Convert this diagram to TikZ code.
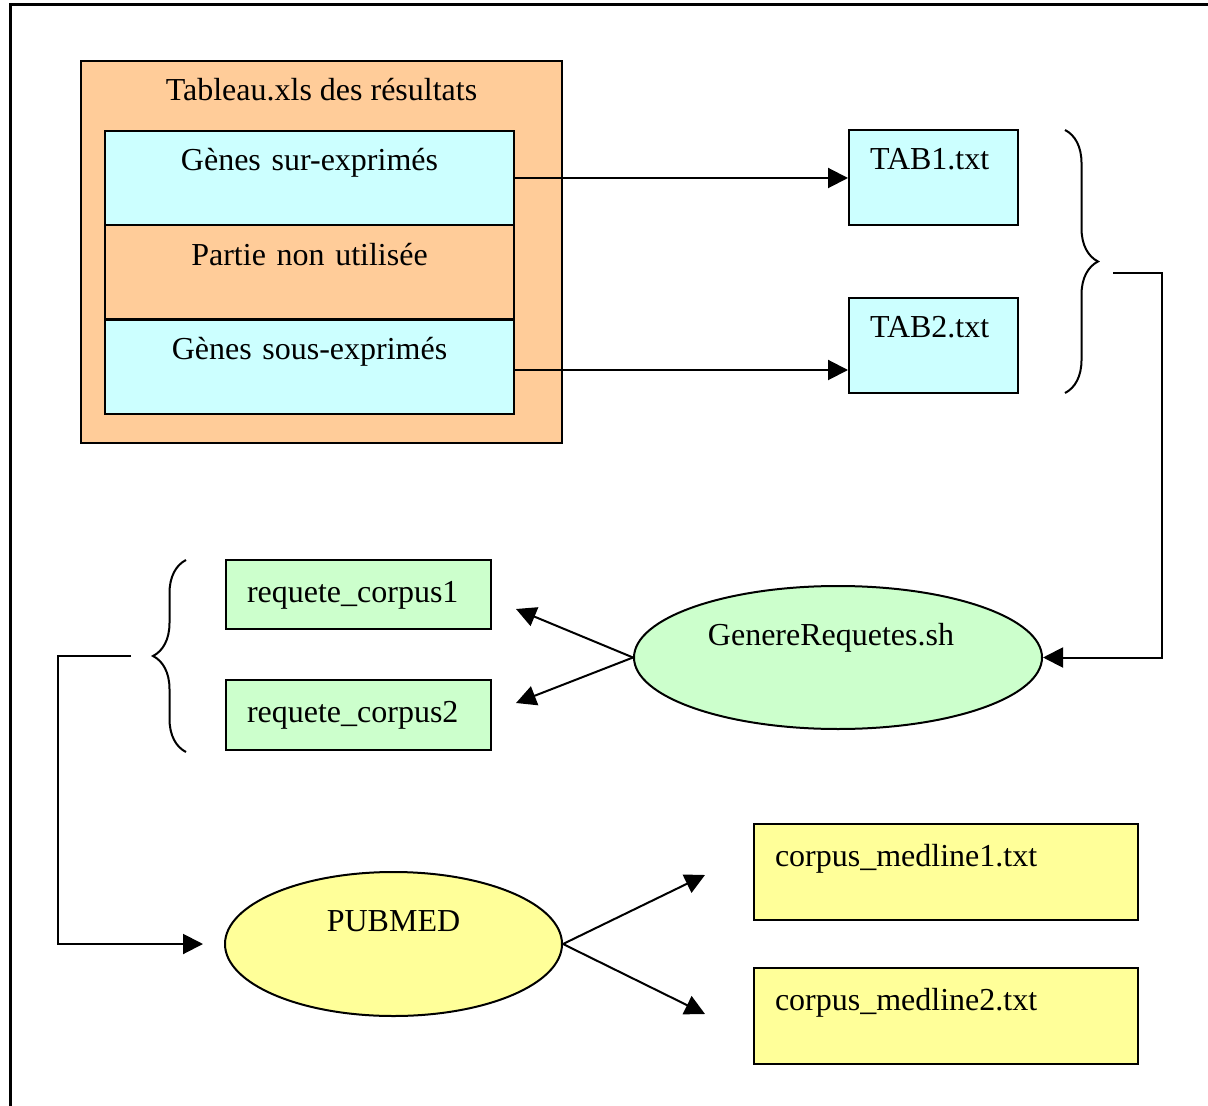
\documentclass[tikz,border=0pt]{standalone}
\usepackage{fontspec}
\setmainfont{Liberation Serif}
\usepackage{tikz}
\usetikzlibrary{arrows.meta,shapes,positioning,decorations.pathreplacing}
\definecolor{peach}{HTML}{FFCC99}
\definecolor{paleblue}{HTML}{CCFFFF}
\definecolor{palegreen}{HTML}{CCFFCC}
\definecolor{paleyellow}{HTML}{FFFF99}
\begin{document}
\begin{tikzpicture}[x=0.5pt,y=-0.5pt,
    every node/.style={font=\fontsize{16}{19}\selectfont, line width=1pt},
    cell/.style={draw, rectangle, inner ysep=0pt, inner xsep=0pt, align=center, text height=20pt, text depth=27pt},
    file/.style={draw, rectangle, inner ysep=0pt, inner xsep=10.5pt, align=left},
    prog/.style={draw, ellipse, inner sep=0pt, text height=11pt, text depth=23.5pt},
    arr/.style={line width=1pt, -{Triangle[length=10pt,width=10pt]}},
    brace/.style={line width=1pt, decorate, decoration={brace, amplitude=16.5pt}}]
                    \useasboundingbox (0,0) rectangle (1208,1106);
                    \draw [line width=1.5pt] (10,1106) -- (10,5) -- (1208,5);
                    \node [draw, rectangle, fill=peach, inner sep=0pt, minimum width=240.5pt, text height=20pt, text depth=171pt] (tableau) at (321.5,252) {Tableau.xls des résultats};
                    \node [cell, fill=paleblue, text width=204.5pt] (surexp) at (309.5,178) {Gènes sur-exprimés};
                    \node [cell, fill=peach, text width=204.5pt] (nonutil) at (309.5,272.5) {Partie non utilisée};
                    \node [cell, fill=paleblue, text width=204.5pt] (sousexp) at (309.5,367) {Gènes sous-exprimés};
                    \node [file, fill=paleblue, text width=63.5pt, text height=20pt, text depth=27.5pt] (tabone) at (933.5,177.5) {TAB1.txt};
                    \node [file, fill=paleblue, text width=63.5pt, text height=20pt, text depth=27.5pt] (tabtwo) at (933.5,345.5) {TAB2.txt};
                    \node [prog, fill=palegreen, minimum width=204pt, minimum height=71.5pt] (genere) at (838,657.5) {\hspace*{-7pt}GenereRequetes.sh};
                    \node [file, fill=palegreen, text width=111.5pt, text height=21pt, text depth=13.5pt] (reqone) at (358.5,594.5) {requete\_corpus1};
                    \node [file, fill=palegreen, text width=111.5pt, text height=21pt, text depth=14pt] (reqtwo) at (358.5,715) {requete\_corpus2};
                    \node [prog, fill=paleyellow, minimum width=168.5pt, minimum height=72pt, text depth=24pt] (pubmed) at (393.5,944) {PUBMED};
                    \node [file, fill=paleyellow, text width=171pt, text height=21pt, text depth=27pt] (medone) at (946,872) {corpus\_medline1.txt};
                    \node [file, fill=paleyellow, text width=171pt, text height=21pt, text depth=27pt] (medtwo) at (946,1016) {corpus\_medline2.txt};
                    \coordinate (tabout) at (1113,273);
                    \coordinate (toreqone) at (516,609);
                    \coordinate (toreqtwo) at (516,703);
                    \coordinate (reqout) at (131,656);
                    \coordinate (topubmed) at (203,944);
                    \coordinate (tomedone) at (705,875);
                    \coordinate (tomedtwo) at (705,1014);
                    \draw [arr] (surexp.east) -- (surexp.east -| tabone.west);
                    \draw [arr] ([yshift=-1.5pt]sousexp.east) -- ([yshift=-1.5pt]sousexp.east -| tabtwo.west);
                    \draw [brace] (1065,130) -- (1065,393);
                    \draw [arr] (tabout) -- (1162,273) |- (genere.east);
                    \draw [arr] (genere.west) -- (toreqone);
                    \draw [arr] (genere.west) -- (toreqtwo);
                    \draw [brace] (186,752) -- (186,560);
                    \draw [arr] (reqout) -- (58,656) |- (topubmed);
                    \draw [arr] (pubmed.east) -- (tomedone);
                    \draw [arr] (pubmed.east) -- (tomedtwo);
                \end{tikzpicture}
\end{document}
